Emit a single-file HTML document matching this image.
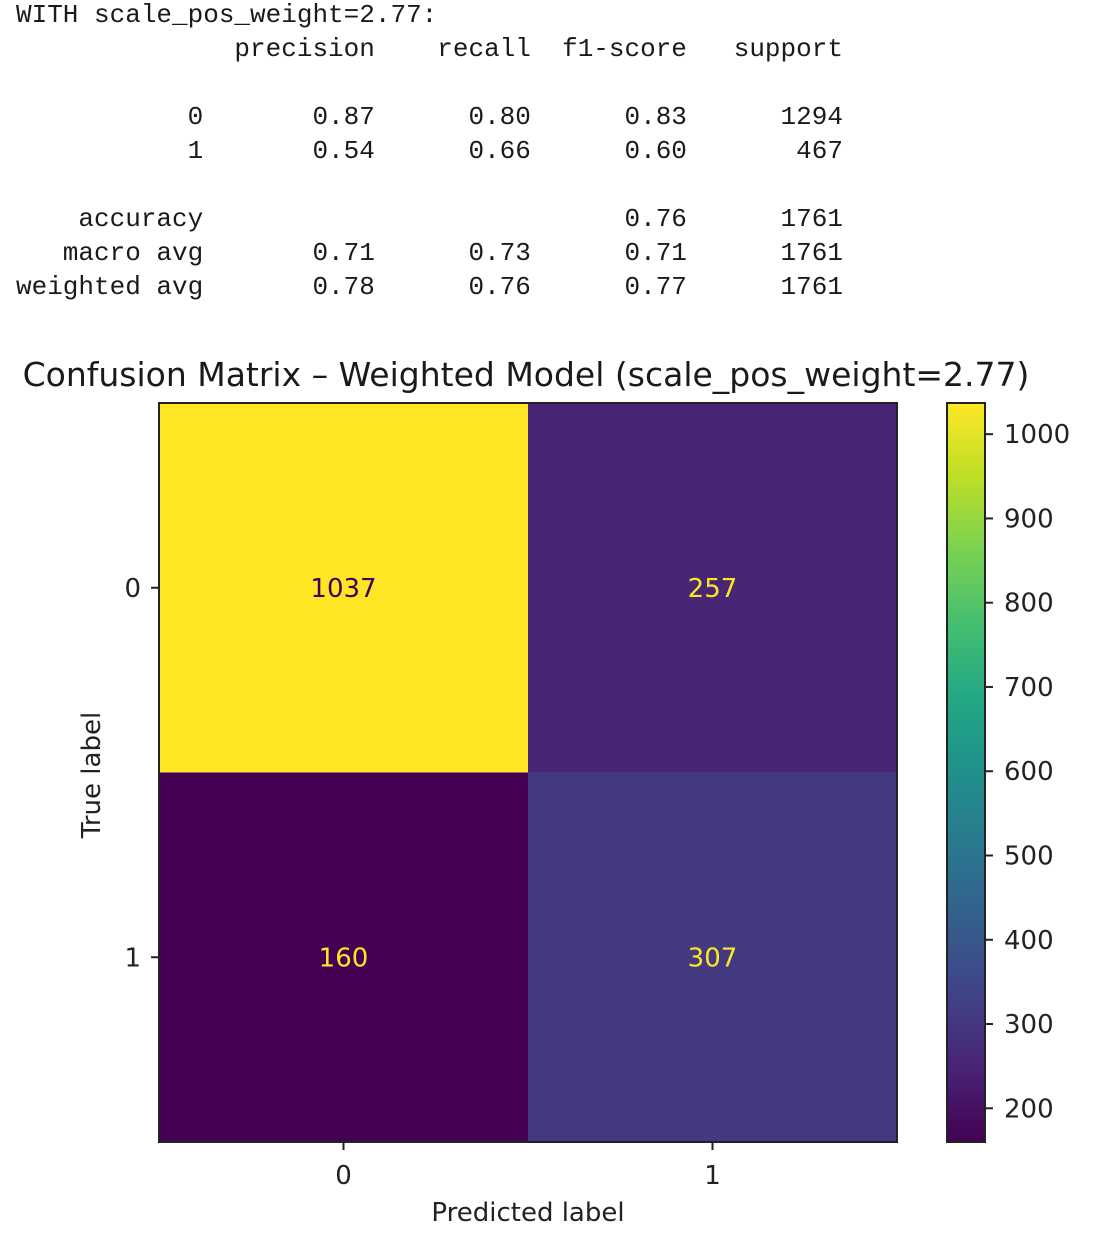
<!DOCTYPE html>
<html><head><meta charset="utf-8">
<style>
html,body{margin:0;padding:0;background:#fff;width:1110px;height:1250px;overflow:hidden}
pre{position:absolute;left:16px;top:-2px;margin:0;font-family:"Liberation Mono",monospace;font-size:26px;line-height:34px;color:#1a1a1a}
svg{position:absolute;left:0;top:0}
</style></head><body>
<pre>WITH scale_pos_weight=2.77:
              precision    recall  f1-score   support

           0       0.87      0.80      0.83      1294
           1       0.54      0.66      0.60       467

    accuracy                           0.76      1761
   macro avg       0.71      0.73      0.71      1761
weighted avg       0.78      0.76      0.77      1761</pre>
<svg id="chart" width="1110" height="1250" font-family="DejaVu Sans, Liberation Sans, sans-serif"></svg>
<script>
const classLabels = ["0","1"];
const matrixValues = [[1037,257],[160,307]];
const cbarTicks = [200,300,400,500,600,700,800,900,1000];

const NS="http://www.w3.org/2000/svg";
const svg=document.getElementById('chart');
function mk(tag,attrs,parent){const e=document.createElementNS(NS,tag);for(const k in attrs)e.setAttribute(k,attrs[k]);(parent||svg).appendChild(e);return e;}
const VIR=[[68,1,84],[72,35,116],[64,67,135],[52,94,141],[41,120,142],[32,144,140],[34,167,132],[68,190,112],[121,209,81],[189,222,38],[253,231,37]];
function viridis(t){t=Math.max(0,Math.min(1,t));const f=t*10,i=Math.min(9,Math.floor(f)),r=f-i;const a=VIR[i],b=VIR[i+1];return 'rgb('+a.map((v,k)=>Math.round(v+(b[k]-v)*r)).join(',')+')';}
const flat=matrixValues.flat();const vmin=Math.min(...flat),vmax=Math.max(...flat);
const AX={x0:159,y0:403,x1:897,y1:1142};
const n=classLabels.length;
const cw=(AX.x1-AX.x0)/n,ch=(AX.y1-AX.y0)/n;
const xc=j=>AX.x0+cw*(j+0.5), yc=i=>AX.y0+ch*(i+0.5);
const norm=v=>(v-vmin)/(vmax-vmin);

const title=mk('text',{x:526,y:386,'text-anchor':'middle','font-size':33,fill:'#1a1a1a'});


title.textContent='Confusion Matrix – Weighted Model (scale_pos_weight=2.77)';

matrixValues.forEach((row,i)=>row.forEach((v,j)=>{
  const r=mk('rect',{x:AX.x0+cw*j,y:AX.y0+ch*i,width:cw+0.5,height:ch+0.5,fill:viridis(norm(v))});
  
  
  const t=mk('text',{x:xc(j),y:yc(i)+9,'text-anchor':'middle','font-size':26,fill:norm(v)>0.5?viridis(0):viridis(1)});
  
  
  t.textContent=v;
}));
const frame=mk('rect',{x:AX.x0,y:AX.y0,width:AX.x1-AX.x0,height:AX.y1-AX.y0,fill:'none',stroke:'#222','stroke-width':2});



classLabels.forEach((lab,k)=>{
  mk('line',{x1:AX.x0-8,x2:AX.x0,y1:yc(k),y2:yc(k),stroke:'#222','stroke-width':2});
  const ty=mk('text',{x:AX.x0-18,y:yc(k)+9,'text-anchor':'end','font-size':26,fill:'#222'});
  
  
  ty.textContent=lab;
  mk('line',{x1:xc(k),x2:xc(k),y1:AX.y1,y2:AX.y1+8,stroke:'#222','stroke-width':2});
  const tx=mk('text',{x:xc(k),y:AX.y1+42,'text-anchor':'middle','font-size':26,fill:'#222'});
  
  
  tx.textContent=lab;
});
const xl=mk('text',{x:(AX.x0+AX.x1)/2,y:1221,'text-anchor':'middle','font-size':26,fill:'#222'});


xl.textContent='Predicted label';
const yl=mk('text',{x:0,y:0,'text-anchor':'middle','font-size':26,fill:'#222',transform:'translate(100,775) rotate(-90)'});


yl.textContent='True label';

// colorbar
const CB={x0:947,x1:985,y0:403,y1:1142};
const cy=v=>CB.y1-(v-vmin)/(vmax-vmin)*(CB.y1-CB.y0);
const defs=mk('defs',{});
const g=mk('linearGradient',{id:'vg',x1:0,y1:1,x2:0,y2:0},defs);
for(let s=0;s<=20;s++)mk('stop',{offset:s/20,'stop-color':viridis(s/20)},g);
const cb=mk('rect',{x:CB.x0,y:CB.y0,width:CB.x1-CB.x0,height:CB.y1-CB.y0,fill:'url(#vg)',stroke:'#222','stroke-width':2});


cbarTicks.forEach(v=>{
  const y=cy(v);
  mk('line',{x1:CB.x1,x2:CB.x1+8,y1:y,y2:y,stroke:'#222','stroke-width':2});
  const t=mk('text',{x:CB.x1+19,y:y+9,'font-size':26,fill:'#222'});
  
  
  t.textContent=v;
});
</script>
</body></html>
